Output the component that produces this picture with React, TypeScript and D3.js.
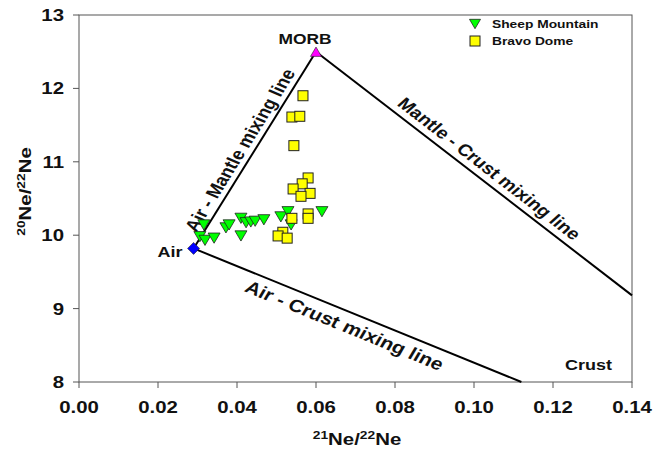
import * as d3 from "d3";

// Sheep Mountain (21Ne/22Ne, 20Ne/22Ne)
const sheepX = [0.0316, 0.0306, 0.0319, 0.0342, 0.0372, 0.038, 0.041, 0.041, 0.0423, 0.0435, 0.0446, 0.0468, 0.0511, 0.0529, 0.0537, 0.0615];
const sheepY = [10.14, 9.98, 9.93, 9.96, 10.1, 10.14, 10.23, 9.99, 10.17, 10.18, 10.19, 10.21, 10.25, 10.32, 10.14, 10.32];

// Bravo Dome
const bravoX = [0.0567, 0.0539, 0.0559, 0.0544, 0.058, 0.0565, 0.0542, 0.0585, 0.0562, 0.0539, 0.058, 0.058, 0.0516, 0.0504, 0.0527];
const bravoY = [11.9, 11.61, 11.62, 11.22, 10.78, 10.7, 10.63, 10.57, 10.53, 10.23, 10.29, 10.23, 10.04, 9.99, 9.96];

// end members and mixing line ends
const air = [0.029, 9.82];
const morb = [0.06, 12.5];
const crustEnd = [0.112, 8.0];
const mantleCrustEnd = [0.14, 9.18];

const xTicks = [0, 0.02, 0.04, 0.06, 0.08, 0.1, 0.12, 0.14];
const yTicks = [8, 9, 10, 11, 12, 13];

const FONT = "'Liberation Sans', Arial, sans-serif";
const SX = 1.2; // the source image text looks horizontally stretched

// text stretched horizontally in screen space, rotated so its final direction is `deg`
const SText = ({ x, y, deg = 0, size, anchor = "start", baseline, children }: any) => {
  const r = (deg * Math.PI) / 180;
  const pre = (Math.atan2(Math.sin(r) * SX, Math.cos(r)) * 180) / Math.PI;
  return (
    <text
      transform={`translate(${x},${y}) scale(${SX},1) rotate(${pre})`}
      textAnchor={anchor}
      dominantBaseline={baseline}
      fontFamily={FONT}
      fontWeight={700}
      fontSize={size}
      fill="#111"
    >
      {children}
    </text>
  );
};

export default function App() {
  const width = 653;
  const height = 451;
  const left = 79, right = 632, top = 15, bottom = 382;

  const x = d3.scaleLinear().domain([0, 0.14]).range([left, right]);
  const y = d3.scaleLinear().domain([8, 13]).range([bottom, top]);

  const line = d3.line<number[]>().x((d) => x(d[0])).y((d) => y(d[1]));

  const angle = (a: number[], b: number[]) =>
    (Math.atan2(y(b[1]) - y(a[1]), x(b[0]) - x(a[0])) * 180) / Math.PI;

  // point along a segment at fraction t, pushed off by `off` px (perpendicular, positive = left of direction)
  const along = (a: number[], b: number[], t: number, off: number) => {
    const x1 = x(a[0]), y1 = y(a[1]), x2 = x(b[0]), y2 = y(b[1]);
    const len = Math.hypot(x2 - x1, y2 - y1);
    const nx = (y2 - y1) / len, ny = -(x2 - x1) / len;
    return [x1 + (x2 - x1) * t + nx * off, y1 + (y2 - y1) * t + ny * off];
  };

  const tri = (cx: number, cy: number, s: number, down: boolean) => {
    const h = s * 0.85;
    return down
      ? `M${cx - s / 2},${cy - h / 2}L${cx + s / 2},${cy - h / 2}L${cx},${cy + h / 2}Z`
      : `M${cx - s / 2},${cy + h / 2}L${cx + s / 2},${cy + h / 2}L${cx},${cy - h / 2}Z`;
  };

  const lbl1 = along(air, morb, 0.47, 6);
  const lbl2 = along(morb, mantleCrustEnd, 0.52, 7);
  const lbl3 = along(air, crustEnd, 0.48, -8);

  return (
    <svg width={width} height={height} style={{ position: "absolute", left: 0, top: 0, background: "white" }}>
      {/* frame */}
      <rect x={left} y={top} width={right - left} height={bottom - top} fill="none" stroke="#555" strokeWidth={1} />

      {xTicks.map((t) => (
        <g key={"x" + t}>
          <line x1={x(t)} x2={x(t)} y1={bottom} y2={bottom + 6} stroke="#555" />
          <SText x={x(t)} y={413} size={17} anchor="middle">{d3.format(".2f")(t)}</SText>
        </g>
      ))}
      {yTicks.map((t) => (
        <g key={"y" + t}>
          <line x1={left - 6} x2={left} y1={y(t)} y2={y(t)} stroke="#555" />
          <SText x={64} y={y(t) + 6} size={17} anchor="end">{t}</SText>
        </g>
      ))}

      {/* axis titles */}
      <SText x={357} y={445} size={17} anchor="middle">
        <tspan fontSize={11.5} dy={-6}>21</tspan>
        <tspan dy={6}>Ne/</tspan>
        <tspan fontSize={11.5} dy={-6}>22</tspan>
        <tspan dy={6}>Ne</tspan>
      </SText>
      <text transform={`translate(31,${(top + bottom) / 2 - 7}) scale(1,${SX}) rotate(-90)`} textAnchor="middle" fontFamily={FONT} fontWeight={700} fontSize={17} fill="#111">
        <tspan fontSize={11.5} dy={-6}>20</tspan>
        <tspan dy={6}>Ne/</tspan>
        <tspan fontSize={11.5} dy={-6}>22</tspan>
        <tspan dy={6}>Ne</tspan>
      </text>

      {/* mixing lines */}
      <path d={line([air, morb]) || ""} stroke="#000" strokeWidth={2} fill="none" />
      <path d={line([morb, mantleCrustEnd]) || ""} stroke="#000" strokeWidth={2} fill="none" />
      <path d={line([air, crustEnd]) || ""} stroke="#000" strokeWidth={2} fill="none" />

      <SText x={lbl1[0]} y={lbl1[1]} deg={angle(air, morb)} size={16.5} anchor="middle">Air - Mantle mixing line</SText>
      <SText x={lbl2[0]} y={lbl2[1]} deg={angle(morb, mantleCrustEnd)} size={16.5} anchor="middle">Mantle - Crust mixing line</SText>
      <SText x={lbl3[0]} y={lbl3[1]} deg={angle(air, crustEnd)} size={17.5} anchor="middle" baseline="hanging">Air - Crust mixing line</SText>

      {/* data */}
      {sheepX.map((v, i) => (
        <path key={"s" + i} d={tri(x(v), y(sheepY[i]), 12, true)} fill="#00ff00" stroke="#222" strokeWidth={0.8} />
      ))}
      {bravoX.map((v, i) => (
        <rect key={"b" + i} x={x(v) - 5} y={y(bravoY[i]) - 5} width={10} height={10} fill="#ffff00" stroke="#222" strokeWidth={1} />
      ))}

      {/* end members */}
      <path d={tri(x(morb[0]), y(morb[1]), 11, false)} fill="#ff00ff" stroke="#222" strokeWidth={0.6} />
      <SText x={x(morb[0]) - 11} y={y(morb[1]) - 8} size={14.5} anchor="middle">MORB</SText>
      <path
        d={`M${x(air[0])},${y(air[1]) - 6}L${x(air[0]) + 6},${y(air[1])}L${x(air[0])},${y(air[1]) + 6}L${x(air[0]) - 6},${y(air[1])}Z`}
        fill="#0000ff" stroke="#222" strokeWidth={0.6}
      />
      <SText x={x(air[0]) - 11} y={y(air[1]) + 9} size={15} anchor="end">Air</SText>
      <SText x={565} y={370} size={15}>Crust</SText>

      {/* legend */}
      <path d={tri(475, 24, 11, true)} fill="#00ff00" stroke="#222" strokeWidth={0.8} />
      <SText x={492} y={28} size={11.5}>Sheep Mountain</SText>
      <rect x={470} y={36} width={10} height={10} fill="#ffff00" stroke="#222" />
      <SText x={492} y={45} size={11.5}>Bravo Dome</SText>
    </svg>
  );
}
